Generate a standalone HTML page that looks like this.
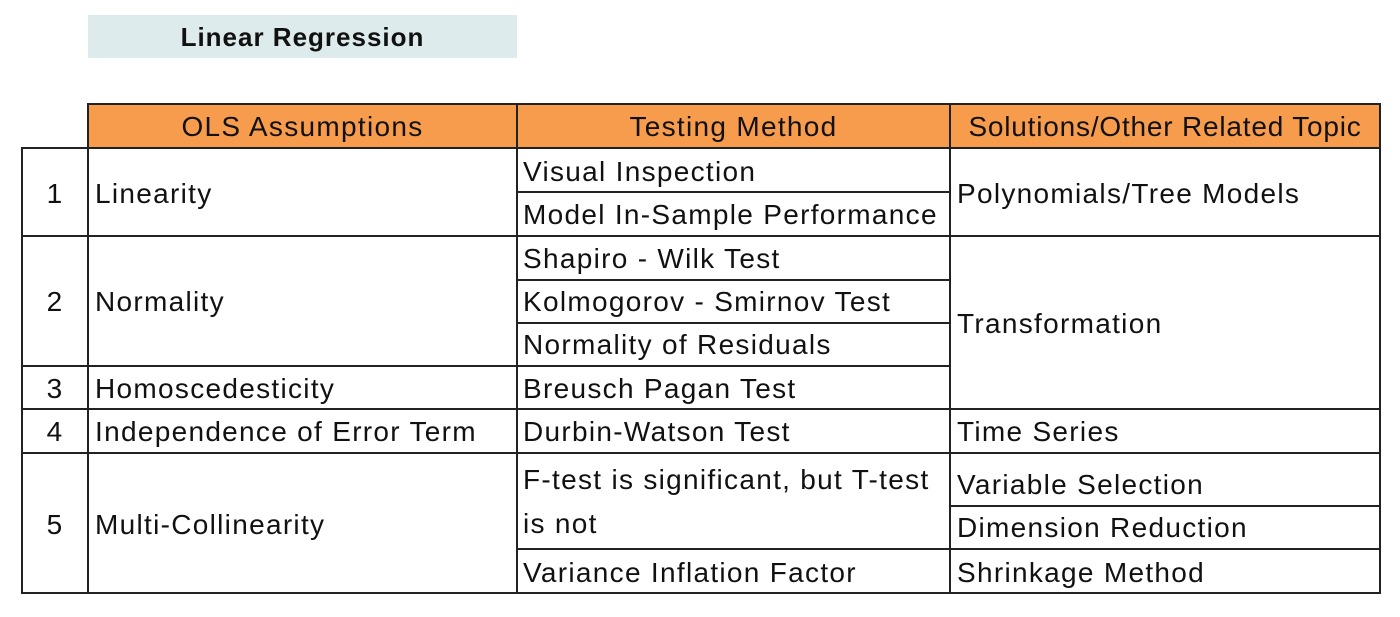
<!DOCTYPE html>
<html><head><meta charset="utf-8"><style>
body{margin:0;background:#fff;width:1400px;height:617px;position:relative;overflow:hidden;font-family:"Liberation Sans",sans-serif;color:#111}
.t{position:absolute;font-size:28px;letter-spacing:1.3px;white-space:nowrap;line-height:30px}
.v{position:absolute;background:#222;width:2px}
.hl{position:absolute;background:#222;height:2px}
</style></head><body>
<div style="position:absolute;left:88px;top:15px;width:429px;height:43px;background:#ddebec"></div>
<div class="t" style="left:88px;top:22px;width:429px;text-align:center;font-weight:bold;font-size:26px;letter-spacing:1px">Linear Regression</div>
<div style="position:absolute;left:88px;top:104px;width:1292px;height:44px;background:#f79b4d"></div>
<div class="t" style="left:88px;top:112px;width:429px;text-align:center">OLS Assumptions</div>
<div class="t" style="left:517px;top:112px;width:433px;text-align:center">Testing Method</div>
<div class="t" style="left:950px;top:112px;width:430px;text-align:center;letter-spacing:0.8px">Solutions/Other Related Topic</div>

<div class="v" style="left:21px;top:148px;height:446px"></div>
<div class="v" style="left:87px;top:103px;height:491px"></div>
<div class="v" style="left:516px;top:103px;height:491px"></div>
<div class="v" style="left:949px;top:103px;height:491px"></div>
<div class="v" style="left:1379px;top:103px;height:491px"></div>
<div class="hl" style="left:87px;top:103px;width:1294px"></div>
<div class="hl" style="left:21px;top:147px;width:1360px"></div>
<div class="hl" style="left:517px;top:191px;width:433px"></div>
<div class="hl" style="left:21px;top:235px;width:1360px"></div>
<div class="hl" style="left:517px;top:279px;width:433px"></div>
<div class="hl" style="left:517px;top:322px;width:433px"></div>
<div class="hl" style="left:21px;top:365px;width:929px"></div>
<div class="hl" style="left:21px;top:408px;width:1360px"></div>
<div class="hl" style="left:21px;top:452px;width:1360px"></div>
<div class="hl" style="left:950px;top:505px;width:431px"></div>
<div class="hl" style="left:517px;top:548px;width:864px"></div>
<div class="hl" style="left:21px;top:592px;width:1360px"></div>

<div class="t" style="left:22px;top:179px;width:66px;text-align:center">1</div>
<div class="t" style="left:22px;top:287px;width:66px;text-align:center">2</div>
<div class="t" style="left:22px;top:374px;width:66px;text-align:center">3</div>
<div class="t" style="left:22px;top:417px;width:66px;text-align:center">4</div>
<div class="t" style="left:22px;top:510px;width:66px;text-align:center">5</div>

<div class="t" style="left:95px;top:179px">Linearity</div>
<div class="t" style="left:95px;top:287px">Normality</div>
<div class="t" style="left:95px;top:374px">Homoscedesticity</div>
<div class="t" style="left:95px;top:417px">Independence of Error Term</div>
<div class="t" style="left:95px;top:510px">Multi-Collinearity</div>

<div class="t" style="left:523px;top:157px">Visual Inspection</div>
<div class="t" style="left:523px;top:200px">Model In-Sample Performance</div>
<div class="t" style="left:523px;top:244px">Shapiro - Wilk Test</div>
<div class="t" style="left:523px;top:287px">Kolmogorov - Smirnov Test</div>
<div class="t" style="left:523px;top:330px">Normality of Residuals</div>
<div class="t" style="left:523px;top:374px">Breusch Pagan Test</div>
<div class="t" style="left:523px;top:417px">Durbin-Watson Test</div>
<div class="t" style="left:523px;top:458px;line-height:44px">F-test is significant, but T-test<br>is not</div>
<div class="t" style="left:523px;top:558px">Variance Inflation Factor</div>

<div class="t" style="left:957px;top:179px">Polynomials/Tree Models</div>
<div class="t" style="left:957px;top:309px">Transformation</div>
<div class="t" style="left:957px;top:417px">Time Series</div>
<div class="t" style="left:957px;top:470px">Variable Selection</div>
<div class="t" style="left:957px;top:513px">Dimension Reduction</div>
<div class="t" style="left:957px;top:558px">Shrinkage Method</div>
</body></html>
